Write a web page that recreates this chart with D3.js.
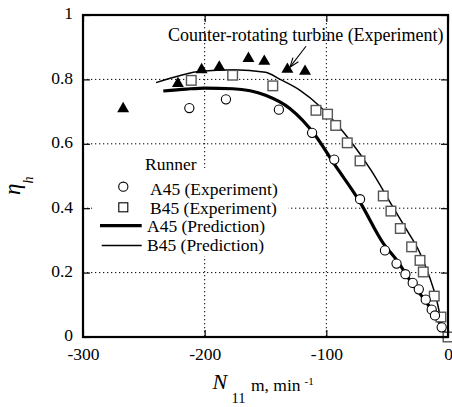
<!DOCTYPE html>
<html>
<head>
<meta charset="utf-8">
<script src="https://cdn.jsdelivr.net/npm/d3@7"></script>
<style>
  body { margin: 0; background: #fff; }
  svg { display: block; }
  svg text { font-family: "Liberation Serif", "DejaVu Serif", serif; }
</style>
</head>
<body>
<svg></svg>
<script>
// tick values
const xTicks = [-300, -200, -100, 0];
const yTicks = [0, 0.2, 0.4, 0.6, 0.8, 1];
const xGrid = [-200, -100];
const yGrid = [0.2, 0.4, 0.6, 0.8];

// A45 experiment (circles)
const a45ExpX = [-212.6, -182.5, -139, -111.7, -93.5, -72.3, -51.8, -42.3, -35, -29, -24, -18.3, -13.4, -10.7, -5.2];
const a45ExpY = [0.711, 0.738, 0.706, 0.634, 0.551, 0.428, 0.269, 0.228, 0.195, 0.168, 0.148, 0.116, 0.085, 0.067, 0.03];

// B45 experiment (squares)
const b45ExpX = [-211, -177, -144, -108.5, -99, -92.3, -82.8, -72.3, -53.2, -46.9, -39.2, -29.9, -23, -20.3, -11.3, -5.8, 0];
const b45ExpY = [0.797, 0.813, 0.780, 0.704, 0.692, 0.657, 0.603, 0.547, 0.438, 0.391, 0.337, 0.280, 0.238, 0.202, 0.127, 0.062, 0];

// counter-rotating turbine experiment (triangles)
const crtExpX = [-267, -222, -202.5, -188, -164, -151, -132, -117.5];
const crtExpY = [0.709, 0.787, 0.830, 0.838, 0.865, 0.856, 0.831, 0.825];

// A45 prediction (thick line)
const a45PredX = [-234, -215, -200, -177, -150, -130, -109, -94.5, -72.3, -53.2, -42, -29.6, -19, -9, -2.6];
const a45PredY = [0.764, 0.770, 0.773, 0.771, 0.751, 0.710, 0.626, 0.543, 0.419, 0.291, 0.238, 0.167, 0.114, 0.058, 0.011];

// B45 prediction (thin line)
const b45PredX = [-240, -220, -204, -176, -150, -138, -121.6, -105.2, -92.9, -80.6, -63.3, -45.2, -33.7, -23, -9.3, -4, 0];
const b45PredY = [0.790, 0.812, 0.825, 0.830, 0.822, 0.800, 0.766, 0.716, 0.667, 0.611, 0.518, 0.403, 0.331, 0.260, 0.114, 0.027, 0];

const legendLabels = ['A45 (Experiment)', 'B45 (Experiment)', 'A45 (Prediction)', 'B45 (Prediction)'];

const W = 452, H = 407;
const margin = { top: 15, left: 83 };
const width = 365, height = 322;
const FS = 17.5;

const svg = d3.select('svg').attr('width', W).attr('height', H);
const g = svg.append('g').attr('transform', `translate(${margin.left},${margin.top})`);

const x = d3.scaleLinear().domain([-300, 0]).range([0, width]);
const y = d3.scaleLinear().domain([0, 1]).range([height, 0]);

// gridlines
g.selectAll('.gx').data(xGrid).enter().append('line')
  .attr('x1', d => x(d)).attr('x2', d => x(d))
  .attr('y1', 0).attr('y2', height)
  .attr('stroke', '#000').attr('stroke-width', 1).attr('stroke-dasharray', '1.3,2.7');
g.selectAll('.gy').data(yGrid).enter().append('line')
  .attr('y1', d => y(d)).attr('y2', d => y(d))
  .attr('x1', 0).attr('x2', width)
  .attr('stroke', '#000').attr('stroke-width', 1).attr('stroke-dasharray', '1.3,2.7');

// legend background hides grid
g.append('rect').attr('x', 9).attr('y', 153).attr('width', 196).attr('height', 88).attr('fill', '#fff');

const zip = (xs, ys) => xs.map((v, i) => [v, ys[i]]);
const line = d3.line().x(d => x(d[0])).y(d => y(d[1])).curve(d3.curveMonotoneX);

g.append('path').datum(zip(b45PredX, b45PredY)).attr('d', line)
  .attr('fill', 'none').attr('stroke', '#000').attr('stroke-width', 1.5);
g.append('path').datum(zip(a45PredX, a45PredY)).attr('d', line)
  .attr('fill', 'none').attr('stroke', '#000').attr('stroke-width', 3.2);

// markers
g.selectAll('.tri').data(zip(crtExpX, crtExpY)).enter().append('path')
  .attr('d', d3.symbol(d3.symbolTriangle, 62))
  .attr('transform', d => `translate(${x(d[0])},${y(d[1])})`)
  .attr('fill', '#000');

g.selectAll('.sq').data(zip(b45ExpX, b45ExpY)).enter().append('rect')
  .attr('x', d => x(d[0]) - 4.8).attr('y', d => y(d[1]) - 4.8)
  .attr('width', 9.6).attr('height', 9.6)
  .attr('fill', '#fff').attr('stroke', '#555').attr('stroke-width', 1.4);

g.selectAll('.ci').data(zip(a45ExpX, a45ExpY)).enter().append('circle')
  .attr('cx', d => x(d[0])).attr('cy', d => y(d[1])).attr('r', 4.6)
  .attr('fill', '#fff').attr('stroke', '#000').attr('stroke-width', 1.1);

// frame
g.append('rect').attr('width', width).attr('height', height)
  .attr('fill', 'none').attr('stroke', '#000').attr('stroke-width', 2.2);

// axes with inward ticks
const styleAxis = sel => {
  sel.select('.domain').remove();
  sel.attr('font-family', null).attr('font-size', FS);
  sel.selectAll('line').attr('stroke-width', 1.2);
};
g.append('g').attr('transform', `translate(0,${height})`)
  .call(d3.axisBottom(x).tickValues(xTicks).tickSizeInner(-7).tickSizeOuter(0).tickPadding(11).tickFormat(d => String(d)))
  .call(styleAxis);
g.append('g')
  .call(d3.axisLeft(y).tickValues(yTicks).tickSizeInner(-7).tickSizeOuter(0).tickPadding(10).tickFormat(d3.format('~g')))
  .call(styleAxis)
  .selectAll('text').attr('dy', '0.22em');
g.append('g')
  .call(d3.axisTop(x).tickValues(xTicks).tickSizeInner(-7).tickSizeOuter(0).tickFormat(''))
  .call(styleAxis);
g.append('g').attr('transform', `translate(${width},0)`)
  .call(d3.axisRight(y).tickValues(yTicks).tickSizeInner(-7).tickSizeOuter(0).tickFormat(''))
  .call(styleAxis);

// annotation
g.append('text').attr('x', x(-230.1)).attr('y', y(0.919))
  .attr('font-size', 18)
  .text('Counter-rotating turbine (Experiment)');
const ax0 = [-116.7, 0.903], ax1 = [-129.9, 0.838];
g.append('line').attr('x1', x(ax0[0])).attr('y1', y(ax0[1])).attr('x2', x(ax1[0])).attr('y2', y(ax1[1]))
  .attr('stroke', '#000').attr('stroke-width', 1.1);
{
  const tx = x(ax1[0]), ty = y(ax1[1]);
  const ang = Math.atan2(y(ax0[1]) - ty, x(ax0[0]) - tx);
  const L = 10, sp = 0.35;
  const p1 = [tx + L * Math.cos(ang - sp), ty + L * Math.sin(ang - sp)];
  const p2 = [tx + L * Math.cos(ang + sp), ty + L * Math.sin(ang + sp)];
  g.append('path').attr('d', `M${p1}L${tx},${ty}L${p2}`)
    .attr('fill', 'none').attr('stroke', '#000').attr('stroke-width', 1.1);
}

// legend
const lg = g.append('g').attr('font-size', FS);
lg.append('text').attr('x', 62).attr('y', 155).text('Runner');
const rowsY = [180, 198.5, 217, 236];
lg.append('circle').attr('cx', 40.3).attr('cy', 171.7).attr('r', 4.6)
  .attr('fill', '#fff').attr('stroke', '#000').attr('stroke-width', 1.1);
lg.append('rect').attr('x', 35.8).attr('y', 187.8).attr('width', 9).attr('height', 9)
  .attr('fill', '#fff').attr('stroke', '#000').attr('stroke-width', 1.1);
lg.append('line').attr('x1', 17).attr('x2', 58.7).attr('y1', 210.7).attr('y2', 210.7)
  .attr('stroke', '#000').attr('stroke-width', 3.2);
lg.append('line').attr('x1', 18.7).attr('x2', 58.7).attr('y1', 230.5).attr('y2', 230.5)
  .attr('stroke', '#000').attr('stroke-width', 1.5);
lg.selectAll('.lt').data(legendLabels).enter().append('text')
  .attr('x', (d, i) => i < 2 ? 67 : 64).attr('y', (d, i) => rowsY[i])
  .text(d => d);

// axis titles
const yl = svg.append('text').attr('transform', 'translate(20,195) rotate(-90)')
  .attr('font-style', 'italic');
yl.append('tspan').attr('font-size', 23).text('η');
yl.append('tspan').attr('font-size', 14).attr('dy', 13).text('h');

const xl = svg.append('text');
xl.append('tspan').attr('x', 212.5).attr('y', 389.3).attr('font-size', 22).attr('font-style', 'italic').text('N');
xl.append('tspan').attr('x', 231.5).attr('y', 403).attr('font-size', 14.5).text('11');
xl.append('tspan').attr('x', 251).attr('y', 390.5).attr('font-size', FS).text('m, min');
xl.append('tspan').attr('x', 304.5).attr('y', 385).attr('font-size', 11).text('-1');
</script>
</body>
</html>
